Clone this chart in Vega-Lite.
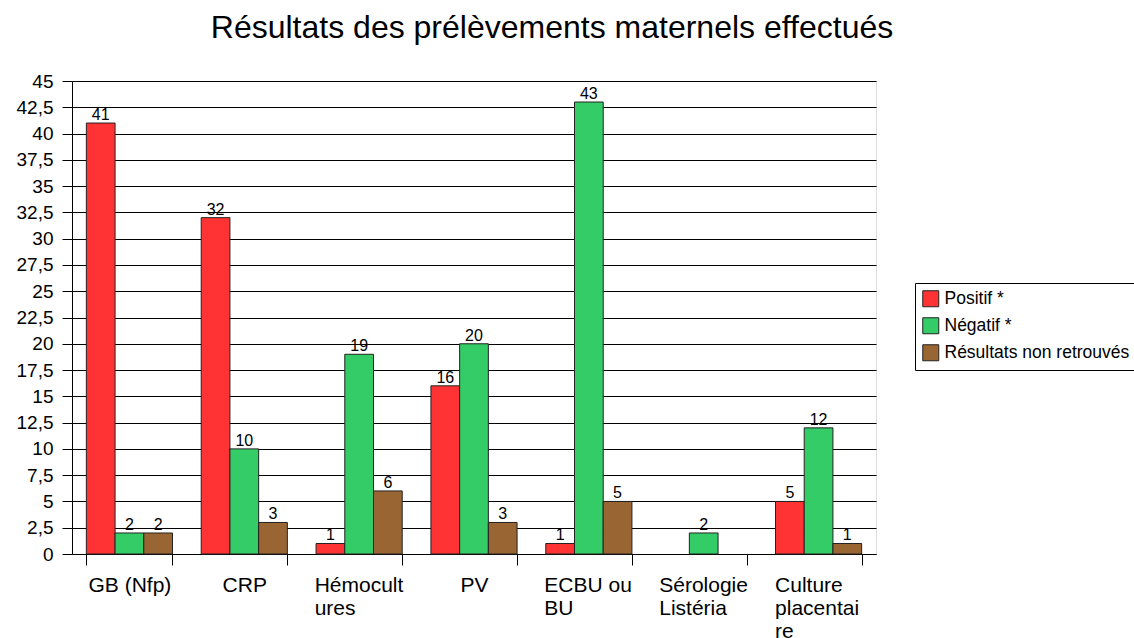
{
  "$schema": "https://vega.github.io/schema/vega-lite/v6.json",
  "width": 804,
  "height": 473,
  "autosize": {"type": "none"},
  "padding": {"left": 72, "top": 81, "right": 258, "bottom": 84},
  "background": "white",
  "title": {
    "text": "Résultats des prélèvements maternels effectués",
    "font": "Liberation Sans",
    "fontSize": 32,
    "fontWeight": "normal",
    "color": "black",
    "anchor": "middle",
    "baseline": "alphabetic",
    "dx": 78,
    "offset": 2
  },
  "data": {
    "values": [
      {"cat": "GB (Nfp)", "serie": "Positif *", "value": 41},
      {"cat": "GB (Nfp)", "serie": "Négatif *", "value": 2},
      {"cat": "GB (Nfp)", "serie": "Résultats non retrouvés", "value": 2},
      {"cat": "CRP", "serie": "Positif *", "value": 32},
      {"cat": "CRP", "serie": "Négatif *", "value": 10},
      {"cat": "CRP", "serie": "Résultats non retrouvés", "value": 3},
      {"cat": "Hémocult|ures", "serie": "Positif *", "value": 1},
      {"cat": "Hémocult|ures", "serie": "Négatif *", "value": 19},
      {"cat": "Hémocult|ures", "serie": "Résultats non retrouvés", "value": 6},
      {"cat": "PV", "serie": "Positif *", "value": 16},
      {"cat": "PV", "serie": "Négatif *", "value": 20},
      {"cat": "PV", "serie": "Résultats non retrouvés", "value": 3},
      {"cat": "ECBU ou|BU", "serie": "Positif *", "value": 1},
      {"cat": "ECBU ou|BU", "serie": "Négatif *", "value": 43},
      {"cat": "ECBU ou|BU", "serie": "Résultats non retrouvés", "value": 5},
      {"cat": "Sérologie|Listéria", "serie": "Négatif *", "value": 2},
      {"cat": "Culture|placentai|re", "serie": "Positif *", "value": 5},
      {"cat": "Culture|placentai|re", "serie": "Négatif *", "value": 12},
      {"cat": "Culture|placentai|re", "serie": "Résultats non retrouvés", "value": 1}
    ]
  },
  "encoding": {
    "x": {
      "field": "cat",
      "type": "nominal",
      "sort": ["GB (Nfp)", "CRP", "Hémocult|ures", "PV", "ECBU ou|BU", "Sérologie|Listéria", "Culture|placentai|re"],
      "scale": {"paddingInner": 0.25, "paddingOuter": 0.125},
      "axis": {
        "title": null,
        "labelAngle": 0,
        "tickBand": "extent",
        "tickSize": 11,
        "tickColor": "black",
        "domainColor": "black",
        "labelColor": "black",
        "labelFont": "Liberation Sans",
        "labelFontSize": 21,
        "labelPadding": 9,
        "labelBaseline": "top",
        "labelLineHeight": 23,
        "labelLimit": 0,
        "grid": false,
        "labelExpr": "split(datum.label, '|')",
        "labelAlign": {"condition": {"test": "datum.value === 'Hémocult|ures' || datum.value === 'ECBU ou|BU' || datum.value === 'Sérologie|Listéria' || datum.value === 'Culture|placentai|re'", "value": "left"}, "value": "center"},
        "labelOffset": {"condition": [
          {"test": "datum.value === 'Culture|placentai|re'", "value": -44},
          {"test": "datum.value === 'Hémocult|ures' || datum.value === 'ECBU ou|BU' || datum.value === 'Sérologie|Listéria'", "value": -45}
        ], "value": 0}
      }
    },
    "xOffset": {
      "field": "serie",
      "type": "nominal",
      "scale": {"domain": ["Positif *", "Négatif *", "Résultats non retrouvés"], "paddingInner": 0, "paddingOuter": 0}
    },
    "y": {
      "field": "value",
      "type": "quantitative",
      "scale": {"domain": [0, 45], "nice": false},
      "axis": {
        "title": null,
        "values": [0, 2.5, 5, 7.5, 10, 12.5, 15, 17.5, 20, 22.5, 25, 27.5, 30, 32.5, 35, 37.5, 40, 42.5, 45],
        "labelExpr": "replace(format(datum.value, '~g'), '.', ',')",
        "grid": true,
        "gridColor": "black",
        "gridOpacity": 1,
        "domainColor": "black",
        "tickColor": "black",
        "tickSize": 10,
        "labelColor": "black",
        "labelFont": "Liberation Sans",
        "labelFontSize": 19,
        "labelPadding": 9
      }
    }
  },
  "layer": [
    {
      "mark": {"type": "bar", "stroke": "#222", "strokeWidth": 1},
      "encoding": {
        "color": {
          "field": "serie",
          "type": "nominal",
          "scale": {"domain": ["Positif *", "Négatif *", "Résultats non retrouvés"], "range": ["#ff3333", "#33cc66", "#996633"]},
          "legend": {
            "title": null,
            "orient": "none",
            "legendX": 843,
            "legendY": 202,
            "strokeColor": "black",
            "fillColor": "white",
            "padding": 7,
            "symbolType": "square",
            "symbolSize": 256,
            "symbolStrokeColor": "#222",
            "symbolStrokeWidth": 1,
            "symbolOpacity": 1,
            "labelFont": "Liberation Sans",
            "labelFontSize": 17.5,
            "labelColor": "black",
            "labelLimit": 0,
            "rowPadding": 6,
            "labelOffset": 5
          }
        }
      }
    },
    {
      "mark": {"type": "text", "baseline": "alphabetic", "dy": -3, "font": "Liberation Sans", "fontSize": 16, "color": "black"},
      "encoding": {"text": {"field": "value", "type": "quantitative"}}
    }
  ]
}
